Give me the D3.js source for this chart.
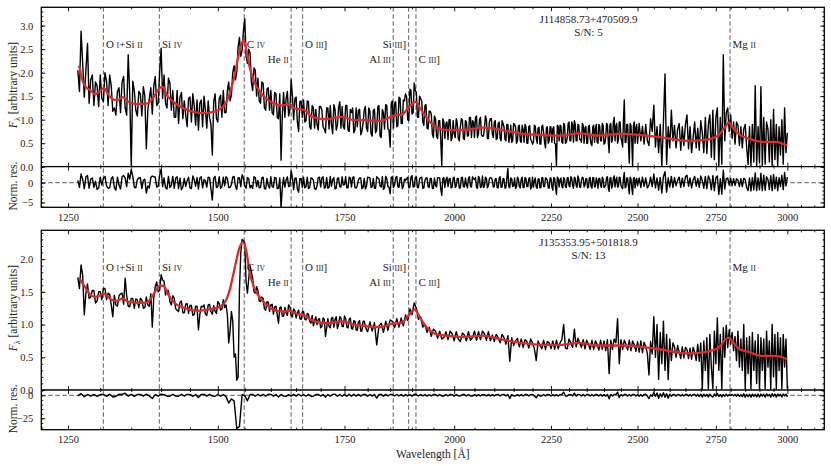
<!DOCTYPE html>
<html>
<head>
<meta charset="utf-8">
<script src="https://cdn.jsdelivr.net/npm/d3@7"></script>
<style>
body { margin: 0; background: #fff; }
text { font-family: 'Liberation Serif', 'DejaVu Serif', serif; fill: #222; }
</style>
</head>
<body>
<div id="chart"></div>
<script>
// spectra sampled every 5 A starting at 1265 A;
// the "Half" arrays hold extra samples half-way between (1267.5, 1272.5, ...)
const waveStart = 1265;
const waveStep = 5;

const nameA = 'J114858.73+470509.9';
const snA = 'S/N: 5';
const nameB = 'J135353.95+501818.9';
const snB = 'S/N: 13';

const fluxA = [
    2.05, 2.88, 1.48, 2.62, 1.85, 1.30, 1.72, 1.95, 1.38, 1.82,
    1.95, 1.18, 1.10, 1.68, 1.80, 1.25, 2.38, 0.02, 1.62, 1.08,
    1.55, 1.70, 0.38, 1.45, 1.12, 1.92, 1.35, 2.52, 1.95, 1.25,
    1.78, 1.62, 1.05, 0.92, 1.58, 1.40, 0.85, 1.48, 1.55, 0.88,
    0.78, 1.42, 1.50, 0.82, 1.05, 0.25, 1.55, 0.95, 1.52, 1.62,
    1.15, 1.80, 1.52, 2.15, 2.02, 2.75, 2.48, 3.15, 2.20, 2.42,
    1.62, 2.05, 1.88, 1.35, 1.78, 1.20, 1.68, 1.62, 1.10, 1.55,
    1.02, 0.14, 1.58, 1.45, 1.08, 1.85, 1.00, 1.48, 0.75, 1.40,
    1.42, 0.98, 1.38, 0.80, 1.25, 1.22, 0.78, 1.28, 0.85, 0.72,
    1.25, 1.30, 0.70, 1.22, 0.88, 1.38, 1.28, 0.80, 1.30, 0.75,
    1.15, 0.72, 1.25, 1.20, 0.68, 0.92, 1.28, 0.75, 1.18, 0.65,
    1.22, 0.78, 1.30, 0.62, 1.15, 1.32, 0.80, 0.42, 1.40, 1.35,
    0.85, 1.48, 0.92, 1.42, 1.55, 1.00, 1.65, 1.12, 1.78, 1.58,
    1.05, 1.45, 0.95, 1.30, 0.82, 1.18, 1.12, 0.62, 1.02, 0.60,
    0.98, 0.02, 0.95, 0.92, 0.58, 1.00, 0.62, 0.70, 1.02, 0.60,
    0.85, 1.00, 0.58, 0.95, 0.66, 1.05, 0.98, 0.62, 1.08, 0.70,
    1.05, 0.65, 0.82, 1.00, 0.60, 1.02, 0.70, 0.95, 0.58, 0.92,
    0.60, 0.98, 0.85, 0.55, 0.90, 0.62, 0.52, 0.92, 0.85, 0.55,
    0.88, 0.52, 0.80, 0.90, 0.50, 0.85, 0.58, 0.48, 0.88, 0.60,
    0.82, 0.48, 0.86, 0.72, 0.40, 0.85, 0.55, 0.84, 0.80, 0.50,
    0.02, 0.85, 0.88, 0.52, 0.92, 0.50, 0.62, 0.95, 0.55, 0.90,
    0.98, 0.55, 0.90, 0.58, 0.52, 0.88, 0.82, 0.50, 0.85, 0.60,
    0.45, 0.88, 0.80, 0.52, 0.90, 0.55, 0.92, 0.48, 0.62, 0.90,
    0.30, 0.92, 0.58, 1.05, 0.85, 0.50, 0.95, 0.60, 0.42, 1.42,
    0.52, 0.90, 0.08, 0.88, 0.02, 0.95, 0.82, 0.50, 0.92, 0.55,
    0.86, 0.48, 0.90, 0.55, 0.45, 1.02, 0.75, 1.31, 0.42, 0.85,
    0.30, 0.90, 0.02, 0.95, 1.97, 0.05, 0.85, 0.40, 1.20, 0.55,
    0.88, 0.40, 0.80, 0.92, 0.35, 0.85, 0.45, 0.90, 1.10, 0.38,
    0.85, 0.30, 0.62, 0.95, 0.40, 0.82, 0.35, 0.98, 0.72, 0.30,
    1.05, 0.28, 0.90, 1.10, 0.20, 1.20, 0.15, 1.05, 1.25, 0.02,
    1.05, 0.05, 2.38, 0.55, 1.15, 1.25, 0.75, 1.10, 0.60, 0.95,
    0.48, 0.95, 0.88, 0.45, 0.85, 0.40, 0.80, 0.90, 0.42, 0.05,
    0.85, 0.02, 0.90, 0.10, 1.72, 0.02, 0.85, 0.08, 1.70, 0.02,
    1.05, 0.05, 0.95, 0.80, 0.10, 1.00, 0.02, 1.22, 0.15, 0.90,
    0.02, 0.85, 0.25, 1.00, 0.05, 1.25, 0.30, 0.72
];
const fluxAHalf = [
    1.60, 2.20, 2.05, 1.35, 1.95, 1.80, 1.28, 1.45, 2.00, 1.30,
    1.72, 1.25, 1.60, 1.15, 1.92, 1.10, 1.55, 1.82, 1.20, 1.60,
    1.08, 1.50, 1.20, 1.68, 1.72, 1.30, 2.02, 1.45, 1.35, 1.88,
    1.20, 1.05, 1.62, 1.48, 1.02, 1.10, 1.45, 0.95, 1.30, 1.42,
    1.35, 0.85, 1.20, 1.40, 0.90, 1.38, 1.02, 1.45, 1.05, 1.15,
    1.62, 1.40, 2.00, 1.85, 2.55, 2.35, 2.90, 2.35, 2.50, 1.80,
    2.10, 1.50, 1.40, 1.80, 1.25, 1.65, 1.20, 1.15, 1.58, 1.05,
    1.55, 1.10, 1.05, 1.60, 1.20, 1.50, 1.45, 0.95, 1.38, 1.05,
    0.95, 1.40, 0.85, 1.30, 0.82, 0.90, 1.28, 1.20, 0.80, 1.25,
    0.80, 0.90, 1.32, 0.78, 1.25, 0.82, 0.85, 1.30, 0.78, 1.22,
    1.25, 0.78, 0.85, 1.22, 0.75, 1.20, 0.82, 1.25, 0.70, 1.20,
    0.72, 1.28, 0.65, 1.22, 0.80, 1.30, 0.78, 1.35, 0.82, 1.38,
    0.88, 1.45, 0.92, 1.40, 1.48, 0.98, 1.62, 1.15, 1.62, 1.05,
    1.50, 1.40, 0.88, 1.32, 0.80, 1.18, 0.70, 1.08, 0.65, 0.98,
    0.58, 1.02, 0.60, 0.95, 1.00, 0.55, 0.98, 0.62, 0.92, 0.55,
    1.02, 0.60, 0.98, 0.65, 1.05, 0.62, 0.95, 1.05, 0.62, 1.00,
    0.68, 0.65, 1.08, 0.60, 0.95, 1.02, 0.62, 0.98, 0.60, 0.95,
    0.55, 0.92, 0.58, 0.90, 0.52, 0.88, 0.55, 0.90, 0.50, 0.86,
    0.55, 0.88, 0.52, 0.85, 0.50, 0.87, 0.54, 0.52, 0.86, 0.50,
    0.84, 0.48, 0.88, 0.52, 0.82, 0.50, 0.85, 0.52, 0.85, 0.48,
    0.88, 0.55, 0.86, 0.50, 0.90, 0.52, 0.92, 0.55, 0.95, 0.52,
    0.90, 0.55, 0.88, 0.58, 0.92, 0.50, 0.86, 0.50, 0.88, 0.48,
    0.85, 0.52, 0.90, 0.50, 0.86, 0.55, 0.88, 0.50, 0.92, 0.55,
    0.90, 0.52, 0.95, 0.55, 0.92, 0.58, 0.95, 0.55, 0.98, 0.52,
    0.90, 0.50, 0.92, 0.55, 0.88, 0.50, 0.90
];

const resA = [
    0.6, 2.2, -1.5, 1.8, 0.9, -1.2, -1.7, 1.4, 1.1, -0.8,
    -1.3, 1.5, -1.9, -0.6, 1.5, 1.2, 2.4, 3.4, -1.1, 0.8,
    1.3, 0.6, -2.6, -1.4, 1.7, 1.4, -0.9, 3.5, 1.2, -1.6,
    -1.2, 1.6, 1.2, -1.5, -1.8, 1.1, 0.5, -1.3, 1.7, -0.9,
    -1.6, 1.5, 0.8, -1.1, 1.3, -4.4, 1.6, -1.0, -1.4, 1.4,
    1.5, -1.2, -0.5, 1.6, -1.7, 1.2, 2.0, -0.8, 1.3, -1.3,
    -1.5, 1.3, 0.6, -1.2, 1.4, -1.6, -0.7, 1.5, -1.1, 1.2,
    -1.4, -6.2, 1.3, 0.7, -1.0, 3.0, -1.8, 1.2, -2.4, 1.1,
    1.4, -1.0, -1.5, 1.2, 0.6, -1.7, 1.3, -1.1, 1.5, -1.2,
    -1.4, 1.6, 0.8, -1.6, 1.1, -1.0, 1.5, -0.5, -1.3, 1.4,
    -1.1, 1.5, -1.4, 0.7, 1.2, -1.2, -1.6, 1.4, 1.3, -1.0,
    -1.4, 1.5, 1.0, -1.1, -1.7, 1.6, -1.0, -2.8, 1.5, -0.6,
    1.6, -1.2, 1.3, -0.9, 0.5, 1.4, -1.1, 1.8, -1.0, 1.5,
    -1.2, 1.3, -1.4, 0.6, 1.2, -1.2, 1.1, -1.5, -0.7, 1.3,
    1.2, -3.2, 1.3, 0.7, -1.0, 1.1, -1.2, 1.4, -0.8, 1.0,
    -1.3, 1.4, -1.1, -0.5, 1.2, -1.0, 1.5, 0.8, -1.2, 1.6,
    -1.2, 1.7, -0.9, 1.1, -0.7, 1.3, 0.6, -1.0, 1.0, -1.3,
    1.5, -1.1, 0.9, -1.2, 3.6, -1.3, 1.0, -0.8, -1.4, 1.4,
    -1.0, 0.9, -1.2, 1.3, -1.0, 1.0, -1.6, 1.4, 0.5, -1.1,
    0.9, -1.3, 1.2, -1.0, 1.2, 0.6, -1.4, 1.2, -1.9, 1.1,
    -3.0, 1.1, 0.8, -1.0, 1.3, -1.1, 1.2, -0.8, 1.5, -0.7,
    1.4, -0.7, 1.7, -1.1, 0.6, 1.2, -0.6, 1.0, -1.2, 1.3,
    -1.4, 1.3, -1.0, 0.5, 1.1, -0.7, 1.4, -1.2, -0.6, 1.5,
    -2.2, 1.3, -0.8, 1.7, 0.7, -1.1, 1.4, -0.7, -1.5, 2.6,
    -1.1, 1.2, -2.8, 1.0, -3.0, 1.3, 0.6, -0.8, 1.2, -1.2,
    1.4, -0.9, 1.2, -1.3, -0.6, 1.4, -1.0, 2.2, -1.3, 1.2,
    -1.9, 1.3, -2.6, 1.5, 2.8, -2.4, 1.2, -1.1, 1.6, -1.2,
    1.3, -0.8, 0.6, 1.4, -1.2, 1.2, -1.0, 1.5, 1.9, -0.9,
    1.2, -1.3, 0.7, 1.6, -0.9, 1.1, -1.2, 1.7, 0.5, -1.4,
    1.6, -1.5, 1.7, 0.8, -1.8, 1.8, -2.0, 1.2, 1.7, -3.0,
    1.0, -2.9, 3.2, -1.6, 1.0, 1.2, -0.6, 1.1, -0.8, 1.0,
    -0.7, 1.0, 0.6, -1.0, 1.0, -1.0, 1.1, 0.8, -1.2, -2.0,
    1.2, -2.1, 1.3, -1.8, 2.5, -2.0, 1.2, -1.8, 2.4, -2.0,
    1.9, -1.9, 1.5, 0.8, -1.7, 1.8, -2.0, 2.1, -1.5, 1.4,
    -2.0, 1.3, -1.0, 1.9, -1.8, 2.6, -0.8, 1.4
];
const resAHalf = [
    -1.2, 0.8, 1.5, -1.4, 1.2, 0.4, -1.3, -0.6, 1.6, -1.4,
    1.0, -1.2, 1.4, -1.6, 1.8, -1.0, 0.9, 1.6, -1.3, 1.2,
    -1.5, 0.9, -0.8, 1.3, 1.5, -1.1, 1.9, -1.0, -1.2, 1.6,
    -0.6, -1.4, 1.5, 1.2, -1.1, -0.9, 1.4, -1.5, 0.8, 1.3,
    1.2, -1.3, 0.5, 1.4, -1.6, 1.1, -1.2, 1.5, -1.0, -0.8,
    1.1, -1.2, 1.4, -0.9, 1.3, -1.0, 1.2, -1.4, 1.0, -0.7,
    1.5, -1.0, -1.3, 1.2, -1.5, 1.1, -1.4, -1.0, 1.3, -1.5,
    1.2, -1.3, -1.1, 1.5, -0.8, 1.3, 1.1, -1.6, 1.0, -1.2,
    -1.3, 1.4, -1.2, 1.1, -1.5, -0.8, 1.4, 1.2, -1.4, 1.3,
    -1.2, -0.9, 1.3, -1.4, 1.2, -1.1, -0.6, 1.5, -1.3, 1.2,
    1.3, -1.2, -0.7, 1.2, -1.5, 1.1, -0.9, 1.3, -1.2, 1.1,
    -1.4, 1.2, -0.9, 1.5, -1.3, 1.0, -1.1, 1.4, -1.2, 1.3,
    -1.0, 1.2, -1.5, 0.9, 1.1, -1.3, 1.4, -1.1, 1.3, -1.2,
    1.0, 1.4, -1.3, 1.2, -1.0, 1.1, -1.4, 1.2, -1.1, 1.3,
    -1.5, 1.0, -1.2, 1.4, 0.9, -1.3, 1.2, -1.2, 1.1, -1.4,
    1.3, -1.0, 1.2, -1.3, 1.5, -1.1, 1.0, 1.3, -1.4, 1.1,
    -1.0, -1.2, 1.4, -1.3, 1.0, 1.2, -1.1, 1.0, -1.3, 1.2,
    -1.2, 1.1, -1.4, 1.3, -1.1, 1.2, -1.0, 1.2, -1.1, 1.0,
    -1.3, 1.4, -1.2, 1.1, -1.0, 1.3, -1.2, -1.1, 1.2, -1.4,
    1.0, -1.2, 1.3, -1.0, 1.1, -1.3, 1.2, -1.0, 1.3, -1.2,
    1.4, -1.1, 1.2, -1.3, 1.0, -1.2, 1.3, -1.0, 1.2, -1.4,
    1.1, -1.2, 1.0, -1.2, 1.4, -1.1, 1.0, -1.3, 1.2, -1.0,
    1.3, -1.1, 1.2, -1.4, 1.1, -1.2, 1.0, -1.0, 1.3, -1.2,
    1.1, -1.4, 1.2, -1.1, 1.4, -1.0, 1.3, -1.2, 1.1, -1.3,
    1.2, -1.0, 1.4, -1.2, 1.0, -1.3, 1.1
];

const fluxB = [
    1.72, 1.91, 1.15, 1.62, 1.42, 1.52, 1.36, 1.50, 1.55, 1.38,
    1.46, 1.12, 1.30, 1.44, 1.48, 1.71, 1.28, 1.40, 1.25, 1.38,
    1.40, 1.25, 1.42, 1.28, 0.96, 1.58, 1.50, 1.76, 1.66, 1.52,
    1.35, 1.44, 1.24, 1.20, 1.36, 1.18, 1.32, 1.29, 1.14, 1.28,
    0.92, 1.28, 1.30, 1.14, 1.31, 1.16, 1.20, 1.35, 1.22, 1.38,
    1.30, 0.72, 1.20, 0.50, 0.15, 1.52, 2.30, 2.25, 1.48, 1.90,
    1.70, 1.48, 1.52, 1.35, 1.40, 1.22, 1.34, 1.30, 1.16, 1.28,
    1.02, 1.27, 1.13, 1.18, 1.30, 1.14, 1.24, 1.10, 1.22, 1.08,
    1.20, 1.07, 1.16, 1.02, 0.98, 1.12, 1.08, 0.95, 1.10, 0.82,
    1.09, 0.95, 1.11, 1.08, 0.94, 1.12, 0.97, 1.13, 0.96, 1.08,
    0.94, 1.06, 0.92, 1.04, 0.90, 1.05, 0.98, 0.89, 1.04, 0.90,
    1.03, 0.69, 0.98, 1.02, 0.88, 1.05, 0.91, 1.07, 1.05, 0.95,
    1.09, 0.96, 1.10, 0.98, 1.15, 1.06, 1.24, 1.15, 1.33, 1.25,
    1.08, 1.12, 0.96, 1.00, 0.88, 0.96, 0.82, 0.93, 0.90, 0.79,
    0.90, 0.78, 0.80, 0.89, 0.77, 0.90, 0.86, 0.75, 0.89, 0.78,
    0.74, 0.87, 0.84, 0.75, 0.89, 0.76, 0.80, 0.90, 0.76, 0.89,
    0.77, 0.90, 0.86, 0.76, 0.89, 0.75, 0.84, 0.74, 0.85, 0.80,
    0.72, 0.85, 0.80, 0.70, 0.83, 0.44, 0.80, 0.68, 0.75, 0.79,
    0.66, 0.78, 0.65, 0.77, 0.74, 0.64, 0.78, 0.72, 0.63, 0.45,
    0.75, 0.68, 0.63, 0.76, 0.62, 0.74, 0.72, 0.63, 0.75, 0.62,
    0.76, 0.63, 0.72, 0.77, 1.00, 0.64, 0.63, 0.78, 0.72, 0.65,
    0.93, 0.66, 0.79, 0.72, 0.65, 0.77, 0.63, 0.76, 0.70, 0.62,
    0.76, 0.62, 0.75, 0.70, 0.61, 0.76, 0.62, 0.75, 0.60, 0.77,
    0.25, 0.76, 0.62, 0.78, 0.72, 1.09, 0.40, 0.77, 0.62, 0.76,
    0.70, 0.61, 0.76, 0.60, 0.75, 0.69, 0.59, 0.74, 0.58, 0.75,
    0.57, 0.73, 0.66, 0.56, 0.23, 0.74, 0.55, 1.12, 0.50, 1.00,
    0.16, 0.88, 0.40, 1.05, 0.30, 0.85, 0.16, 0.78, 0.45, 0.72,
    0.66, 0.50, 0.68, 0.58, 0.48, 0.66, 0.49, 0.65, 0.62, 0.48,
    0.64, 0.47, 0.65, 0.58, 0.45, 0.70, 0.44, 0.72, 0.02, 0.75,
    0.30, 0.80, 0.02, 0.85, 0.35, 0.02, 0.90, 0.40, 1.10, 0.30,
    0.85, 0.02, 0.95, 0.50, 0.99, 0.65, 0.92, 0.70, 0.88, 0.60,
    0.82, 0.45, 0.90, 0.35, 0.78, 0.30, 1.00, 0.02, 0.80, 0.25,
    0.82, 0.02, 0.88, 0.30, 0.75, 0.10, 0.85, 0.02, 0.80, 0.30,
    0.78, 0.02, 0.90, 0.35, 0.75, 0.02, 1.00, 0.20, 0.85, 0.02,
    0.88, 0.30, 0.80, 0.02, 0.85, 0.35, 0.78, 0.02
];
const fluxBHalf = [
    1.55, 1.75, 1.48, 1.40, 1.52, 1.33, 1.50, 1.38, 1.55, 1.48,
    1.30, 1.45, 1.28, 1.47, 1.31, 1.44, 1.27, 1.40, 1.39, 1.26,
    1.38, 1.26, 1.30, 1.47, 1.41, 1.65, 1.52, 1.68, 1.45, 1.52,
    1.30, 1.40, 1.22, 1.34, 1.18, 1.31, 1.17, 1.29, 1.15, 1.28,
    1.15, 1.27, 1.16, 1.30, 1.20, 1.29, 1.17, 1.32, 1.24, 1.26,
    1.15, 0.90, 1.05, 0.55, 0.20, 2.10, 2.28, 1.65, 1.70, 1.80,
    1.50, 1.58, 1.36, 1.42, 1.24, 1.35, 1.20, 1.31, 1.27, 1.15,
    1.26, 1.13, 1.26, 1.14, 1.27, 1.12, 1.21, 1.18, 1.09, 1.20,
    1.08, 1.17, 1.05, 1.14, 1.06, 1.00, 1.09, 0.97, 1.08, 0.95,
    0.97, 1.10, 0.96, 1.12, 1.00, 1.10, 0.97, 1.09, 0.95, 1.10,
    0.93, 1.05, 0.91, 1.06, 0.90, 1.05, 0.92
];

const resB = [
    -0.5, 1.8, -1.6, 0.9, -0.8, 1.0, -1.1, 0.8, 1.0, -1.1,
    1.2, -1.9, -1.0, 1.1, 0.9, 2.2, -0.9, 1.0, -1.2, 0.8,
    1.0, -0.9, 1.3, -0.7, -3.5, 0.8, -1.0, 1.3, 0.7, -1.0,
    -1.0, 1.1, -0.9, -1.0, 1.1, -0.9, 1.0, 1.0, -1.1, 0.9,
    -2.4, 0.9, 1.0, -0.9, 1.1, -0.9, -1.0, 0.9, -1.0, 0.8,
    -1.4, -8.5, -4.0, -6.0, -36.0, -34.0, 0.6, -0.5, -6.0, 0.8,
    0.9, -1.0, 1.1, -0.8, 1.0, -0.9, 1.1, 1.0, -0.9, 0.8,
    -1.8, 1.0, -0.9, -1.1, 0.8, -1.0, 1.0, -0.9, 1.1, -0.8,
    0.9, -1.0, 1.0, -1.0, -1.1, 0.9, 1.0, -0.8, 0.8, -2.0,
    0.9, -1.0, 1.0, 1.1, -1.0, 0.9, -1.0, 1.0, -1.0, 1.0,
    -1.0, 1.1, -0.9, 1.0, -0.9, 0.9, 1.0, -1.0, 0.9, -0.9,
    0.9, -3.0, 0.8, 1.0, -0.9, 1.0, -0.8, 0.9, 0.9, -0.8,
    0.9, -0.7, 0.8, -0.9, 0.8, -0.8, 0.7, -0.9, 1.2, 0.8,
    -0.8, 0.9, -0.8, 0.8, -0.9, 0.6, -0.7, 0.8, 0.8, -0.7,
    0.8, -0.7, -0.7, 0.8, -0.8, 0.8, 0.7, -0.9, 0.8, -0.6,
    -0.7, 0.8, 0.8, -0.7, 0.9, -0.7, -0.9, 0.7, -0.7, 0.7,
    -0.8, 0.7, 0.6, -0.7, 0.8, -0.7, 0.7, -0.7, 0.7, 0.8,
    -0.8, 0.7, 0.8, -0.7, 0.9, -3.4, 0.7, -0.6, -0.7, 0.7,
    -0.7, 0.8, -0.8, 0.8, 0.9, -0.7, 0.7, 0.8, -0.8, -2.7,
    0.7, -0.7, -0.8, 0.8, -0.6, 0.8, 0.7, -0.8, 0.7, -0.7,
    0.7, -0.8, 0.8, 0.7, 3.5, -0.9, -0.8, 0.7, 0.8, -0.7,
    2.5, -0.9, 0.8, 0.7, -0.8, 0.8, -0.7, 0.8, 0.8, -0.8,
    0.8, -0.8, 0.9, 0.7, -0.8, 0.9, -0.9, 0.7, -0.9, 0.8,
    -3.8, 0.8, -0.8, 0.9, 0.7, 3.5, -2.4, 0.9, -0.7, 0.9,
    0.8, -0.9, 0.9, -0.8, 1.0, 0.8, -0.9, 0.9, -1.0, 0.9,
    -1.0, 0.9, 1.1, -0.8, -3.5, 0.6, -1.0, 3.3, -1.2, 2.5,
    -3.2, 1.8, -1.6, 2.8, -2.1, 1.7, -3.1, 1.2, -1.1, 0.9,
    0.9, -0.8, 1.0, 0.7, -0.8, 0.8, -0.9, 0.8, 0.9, -0.8,
    0.9, -0.9, 1.0, 1.0, -1.1, 1.1, -1.2, 1.2, -2.0, 1.2,
    -1.0, 1.1, -1.8, 1.3, -1.0, -1.8, 1.4, -1.0, 2.0, -1.3,
    0.9, -1.8, 1.0, -1.0, 1.1, -0.7, 0.7, -0.3, 0.8, -0.5,
    0.8, -1.0, 1.2, -1.3, 0.8, -1.4, 1.8, -2.0, 1.0, -1.4,
    1.1, -2.0, 1.3, -1.2, 1.1, -1.8, 1.5, -2.0, 1.3, -1.0,
    1.2, -2.0, 1.6, -0.7, 1.0, -2.0, 1.8, -1.2, 1.4, -2.0,
    1.5, -0.8, 1.2, -1.9, 1.4, -0.7, 1.3, -1.9
];

// fitted continuum + line model (wavelength, flux)
const modelWaveA = [1267, 1272, 1277, 1284, 1292, 1300, 1306, 1313, 1323, 1329, 1336, 1345, 1359, 1376, 1384,
    1392, 1400, 1404, 1409, 1421, 1441, 1458, 1476, 1494, 1512, 1522, 1531, 1540, 1548, 1553, 1559, 1568,
    1581, 1600, 1620, 1638, 1646, 1666, 1683, 1707, 1746, 1770, 1792, 1829, 1851, 1866, 1877, 1892, 1908,
    1919, 1935, 1958, 1982, 2022, 2072, 2106, 2167, 2238, 2275, 2330, 2378, 2455, 2556, 2660, 2714, 2759,
    2782, 2794, 2805, 2828, 2863, 2909, 2957, 2999];
const modelFluxA = [2.15, 1.84, 1.70, 1.63, 1.54, 1.61, 1.67, 1.53, 1.42, 1.42, 1.48, 1.38, 1.33, 1.34, 1.42,
    1.58, 1.69, 1.69, 1.54, 1.38, 1.23, 1.16, 1.14, 1.17, 1.31, 1.56, 1.95, 2.45, 2.70, 2.48, 2.13, 1.81,
    1.56, 1.38, 1.30, 1.33, 1.24, 1.21, 1.06, 1.01, 1.06, 0.99, 0.99, 0.97, 1.06, 1.10, 1.11, 1.26, 1.38,
    1.24, 1.03, 0.83, 0.78, 0.78, 0.83, 0.80, 0.71, 0.67, 0.66, 0.71, 0.66, 0.70, 0.64, 0.55, 0.57, 0.67,
    0.85, 0.94, 0.85, 0.69, 0.60, 0.53, 0.53, 0.45];

const modelWaveB = [1267, 1277, 1284, 1292, 1306, 1318, 1326, 1336, 1345, 1362, 1376, 1387, 1398, 1404, 1412,
    1423, 1441, 1464, 1482, 1500, 1512, 1522, 1531, 1540, 1546, 1553, 1559, 1568, 1581, 1600, 1620, 1638,
    1646, 1666, 1687, 1714, 1746, 1770, 1792, 1829, 1851, 1866, 1877, 1892, 1906, 1919, 1935, 1958, 1982,
    2022, 2072, 2106, 2167, 2238, 2275, 2330, 2378, 2455, 2556, 2660, 2714, 2759, 2782, 2794, 2805, 2828,
    2863, 2909, 2957, 2999];
const modelFluxB = [1.71, 1.56, 1.46, 1.42, 1.47, 1.38, 1.36, 1.40, 1.35, 1.33, 1.34, 1.46, 1.60, 1.59, 1.46,
    1.33, 1.25, 1.21, 1.23, 1.26, 1.33, 1.53, 1.86, 2.17, 2.26, 2.12, 1.81, 1.56, 1.39, 1.25, 1.20, 1.21,
    1.18, 1.14, 1.05, 1.02, 1.05, 1.00, 0.98, 0.96, 1.01, 1.02, 1.03, 1.14, 1.23, 1.10, 0.95, 0.85, 0.83,
    0.81, 0.83, 0.79, 0.72, 0.69, 0.69, 0.72, 0.68, 0.68, 0.63, 0.56, 0.58, 0.64, 0.77, 0.80, 0.75, 0.63,
    0.58, 0.52, 0.52, 0.47];

// emission lines marked in both spectra
const lineWaves = [1305, 1397, 1549, 1640, 1663, 1857, 1892, 1909, 2798];
const lineNames = ['O I+Si II', 'Si IV', 'C IV', 'He II', 'O III]', 'Al III', 'Si III]', 'C III]', 'Mg II'];

const xTickLabels = [1250, 1500, 1750, 2000, 2250, 2500, 2750, 3000];
const yTicksA = [0, 0.5, 1, 1.5, 2, 2.5, 3];
const yTicksB = [0, 0.5, 1, 1.5, 2];
const resTicksA = [-5, 0];
const resTicksB = [-25, 0];

const width = 831, height = 466;
const left = 41.3, right = 824.3;

const svg = d3.select('#chart')
    .append('svg')
    .attr('width', width)
    .attr('height', height);

const x = d3.scaleLog().domain([1210, 3138]).range([left, right]);
const minorWaves = d3.range(1250, 3101, 50).filter(d => d % 250 !== 0);

// label placement: lower row and right aligned ones
const lowerRow = ['He II', 'Al III', 'C III]'];
const rightAligned = ['He II', 'Al III', 'Si III]'];

// merge the regular grid and the half-step samples into one sorted series
function series(main, half) {
    return main.map((v, i) => [waveStart + i * waveStep, v])
        .concat((half || []).map((v, i) => [waveStart + waveStep / 2 + i * waveStep, v]))
        .sort((a, b) => a[0] - b[0]);
}

const figures = [
    { id: 'a', name: nameA, sn: snA, flux: series(fluxA, fluxAHalf), res: series(resA, resAHalf),
      mw: modelWaveA, mf: modelFluxA,
      top: 7.3, split: 166.7, bottom: 207.3, yMax: 3.39, yTicks: yTicksA,
      resDomain: [-6.24, 4.06], resTicks: resTicksA, resMinor: 1, xTitle: false },
    { id: 'b', name: nameB, sn: snB, flux: series(fluxB, fluxBHalf), res: series(resB),
      mw: modelWaveB, mf: modelFluxB,
      top: 230.3, split: 390, bottom: 429.7, yMax: 2.44, yTicks: yTicksB,
      resDomain: [-37.4, 5.76], resTicks: resTicksB, resMinor: 5, xTitle: true }
];

function clean(g) {
    g.select('.domain').remove();
    g.selectAll('.tick line').attr('stroke', '#000').attr('stroke-width', 0.9);
    g.selectAll('.tick text').style('font-size', '10.5px').attr('fill', '#222')
        .style('font-family', "'Liberation Serif', serif");
}

function label(sel, str, big, small) {
    str.split(/([IV]+)/).forEach(part => {
        if (!part) return;
        const isNum = /^[IV]+$/.test(part);
        sel.append('tspan').style('font-size', (isNum ? small : big) + 'px').text(part);
    });
}

figures.forEach(f => {
    const g = svg.append('g');
    const y = d3.scaleLinear().domain([0, f.yMax]).range([f.split, f.top]);
    const yr = d3.scaleLinear().domain(f.resDomain).range([f.bottom, f.split]);

    g.append('clipPath').attr('id', 'clipMain' + f.id)
        .append('rect').attr('x', left).attr('y', f.top).attr('width', right - left).attr('height', f.split - f.top);
    g.append('clipPath').attr('id', 'clipRes' + f.id)
        .append('rect').attr('x', left).attr('y', f.split).attr('width', right - left).attr('height', f.bottom - f.split);

    // line markers through both panels
    g.selectAll('.lineMark')
        .data(lineWaves)
        .join('line')
        .attr('x1', d => x(d)).attr('x2', d => x(d))
        .attr('y1', f.top).attr('y2', f.bottom)
        .attr('stroke', '#7a7a7a')
        .attr('stroke-width', 1.2)
        .attr('stroke-dasharray', '4.5,2.5');

    // zero line of residuals
    g.append('line')
        .attr('x1', left).attr('x2', right)
        .attr('y1', yr(0)).attr('y2', yr(0))
        .attr('stroke', '#7a7a7a')
        .attr('stroke-width', 1.2)
        .attr('stroke-dasharray', '4.5,2.5');

    g.append('path')
        .datum(f.flux)
        .attr('clip-path', 'url(#clipMain' + f.id + ')')
        .attr('fill', 'none')
        .attr('stroke', '#000')
        .attr('stroke-width', 1.4)
        .attr('stroke-linejoin', 'round')
        .attr('d', d3.line().x(d => x(d[0])).y(d => y(d[1])));

    g.append('path')
        .datum(d3.zip(f.mw, f.mf))
        .attr('clip-path', 'url(#clipMain' + f.id + ')')
        .attr('fill', 'none')
        .attr('stroke', '#de2a2a')
        .attr('stroke-width', 2.3)
        .attr('d', d3.line().curve(d3.curveMonotoneX).x(d => x(d[0])).y(d => y(d[1])));

    g.append('path')
        .datum(f.res)
        .attr('clip-path', 'url(#clipRes' + f.id + ')')
        .attr('fill', 'none')
        .attr('stroke', '#000')
        .attr('stroke-width', 1.4)
        .attr('stroke-linejoin', 'round')
        .attr('d', d3.line().x(d => x(d[0])).y(d => yr(d[1])));

    // line names
    lineNames.forEach((n, i) => {
        const end = rightAligned.includes(n);
        const t = g.append('text')
            .attr('x', x(lineWaves[i]) + (end ? -2.5 : 2.5))
            .attr('y', f.top + (lowerRow.includes(n) ? 56 : 41))
            .attr('text-anchor', end ? 'end' : 'start');
        label(t, n, 11, 7.8);
    });

    // object name and S/N
    g.append('text').attr('x', 588.5).attr('y', f.top + 15.2).attr('text-anchor', 'middle')
        .style('font-size', '11px').text(f.name);
    g.append('text').attr('x', 588.5).attr('y', f.top + 28.2).attr('text-anchor', 'middle')
        .style('font-size', '11px').text(f.sn);

    // ticks (all inward)
    const xAxes = [
        [d3.axisTop, f.top], [d3.axisBottom, f.split], [d3.axisTop, f.split], [d3.axisBottom, f.bottom]
    ];
    xAxes.forEach(([ax, pos], k) => {
        g.append('g').attr('transform', 'translate(0,' + pos + ')')
            .call(ax(x).tickValues(xTickLabels).tickSize(-4).tickPadding(6)
                .tickFormat(k === 3 ? d3.format('d') : () => ''))
            .call(clean);
        g.append('g').attr('transform', 'translate(0,' + pos + ')')
            .call(ax(x).tickValues(minorWaves).tickSize(-2).tickFormat(() => ''))
            .call(clean);
    });

    const yMinor = d3.range(0, f.yMax, 0.1);
    const rMinor = d3.range(Math.ceil(f.resDomain[0] / f.resMinor) * f.resMinor, f.resDomain[1], f.resMinor);
    [[d3.axisLeft, left], [d3.axisRight, right]].forEach(([ax, pos], k) => {
        g.append('g').attr('transform', 'translate(' + pos + ',0)')
            .call(ax(y).tickValues(f.yTicks).tickSize(-4).tickPadding(8)
                .tickFormat(k === 0 ? d3.format('.1f') : () => ''))
            .call(clean);
        g.append('g').attr('transform', 'translate(' + pos + ',0)')
            .call(ax(y).tickValues(yMinor).tickSize(-2).tickFormat(() => ''))
            .call(clean);
        g.append('g').attr('transform', 'translate(' + pos + ',0)')
            .call(ax(yr).tickValues(f.resTicks).tickSize(-4).tickPadding(8)
                .tickFormat(k === 0 ? d3.format('d') : () => ''))
            .call(clean);
        g.append('g').attr('transform', 'translate(' + pos + ',0)')
            .call(ax(yr).tickValues(rMinor).tickSize(-2).tickFormat(() => ''))
            .call(clean);
    });

    // frame
    g.append('rect')
        .attr('x', left).attr('y', f.top)
        .attr('width', right - left).attr('height', f.bottom - f.top)
        .attr('fill', 'none').attr('stroke', '#000').attr('stroke-width', 1.3);
    g.append('line')
        .attr('x1', left).attr('x2', right).attr('y1', f.split).attr('y2', f.split)
        .attr('stroke', '#000').attr('stroke-width', 1.3);

    // axis titles
    const fl = g.append('text')
        .attr('transform', 'translate(17,' + ((f.top + f.split) / 2 - 2) + ') rotate(-90)')
        .attr('text-anchor', 'middle')
        .style('font-size', '11.5px');
    fl.append('tspan').style('font-style', 'italic').text('F');
    fl.append('tspan').attr('dy', 2.5).style('font-size', '8px').text('λ');
    fl.append('tspan').attr('dy', -2.5).text(' [arbitrary units]');

    g.append('text')
        .attr('transform', 'translate(17,' + ((f.split + f.bottom) / 2 - 1) + ') rotate(-90)')
        .attr('text-anchor', 'middle')
        .style('font-size', '11.5px')
        .text('Norm. res.');

    if (f.xTitle) {
        g.append('text')
            .attr('x', (left + right) / 2).attr('y', 458)
            .attr('text-anchor', 'middle')
            .style('font-size', '11.5px')
            .text('Wavelength [Å]');
    }
});
</script>
</body>
</html>
